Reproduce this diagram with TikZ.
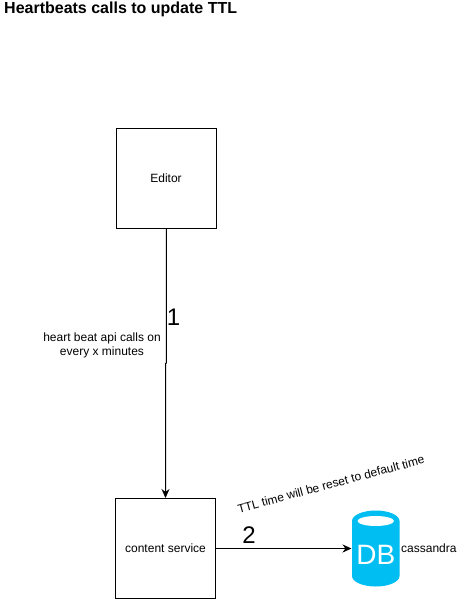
\documentclass[tikz,border=0pt]{standalone}
\usepackage{fontspec}
\setmainfont{Liberation Sans}
\usetikzlibrary{arrows.meta}
\tikzset{
  x=1pt,y=-1pt,
  boxnode/.style={draw=black,line width=1pt,fill=white,minimum width=100pt,minimum height=100pt,inner sep=0pt,font=\fontsize{12}{14}\selectfont},
  lab/.style={inner sep=0pt,align=center,font=\fontsize{12}{14}\selectfont},
  num/.style={inner sep=0pt,font=\fontsize{24}{26}\selectfont},
  conn/.style={draw=black,line width=1pt,-{Stealth[length=9pt,width=8pt]}}
}
\definecolor{dbblue}{HTML}{00BEF2}
\begin{document}
\begin{tikzpicture}
\useasboundingbox (0,0) rectangle (470,599);
\fill[white] (0,0) rectangle (470,599);
\node[anchor=west,inner sep=0pt,font=\bfseries\fontsize{16}{18}\selectfont] (title) at (4,9) {Heartbeats calls to update TTL};
\node[boxnode] (editor) at (166,178.5) {Editor};
\node[boxnode] (content) at (165.5,548.5) {content service};
% database
\fill[dbblue] (352,521) arc[start angle=180,end angle=360,x radius=23.75,y radius=10.5]
  -- (399.5,576) arc[start angle=0,end angle=180,x radius=23.75,y radius=10.5] -- cycle;
\fill[white] (375.75,521) ellipse[x radius=18.2,y radius=5];
\node[inner sep=0pt,text=white,font=\fontsize{28}{30}\selectfont] (db) at (375.9,555) {DB};
\coordinate (dbin) at (351.5,548.5);
\coordinate (b1) at (166.4,363);
\coordinate (b2) at (165.5,363.5);
\draw[conn] (editor.south -| b1) -- (b1) -- (b2) -- (content.north -| b2);
\draw[conn] (content.east) -- (dbin);
\node[lab,anchor=center] (api) at (102,345) {heart beat api calls on\\every x minutes};
\node[num] (n1) at (173.5,317) {1};
\node[num] (n2) at (249,535) {2};
\node[lab,rotate=15] (ttl) at (331,484) {TTL time will be reset to default time};
\node[lab,anchor=west] (cass) at (401,548) {cassandra};
\end{tikzpicture}
\end{document}
